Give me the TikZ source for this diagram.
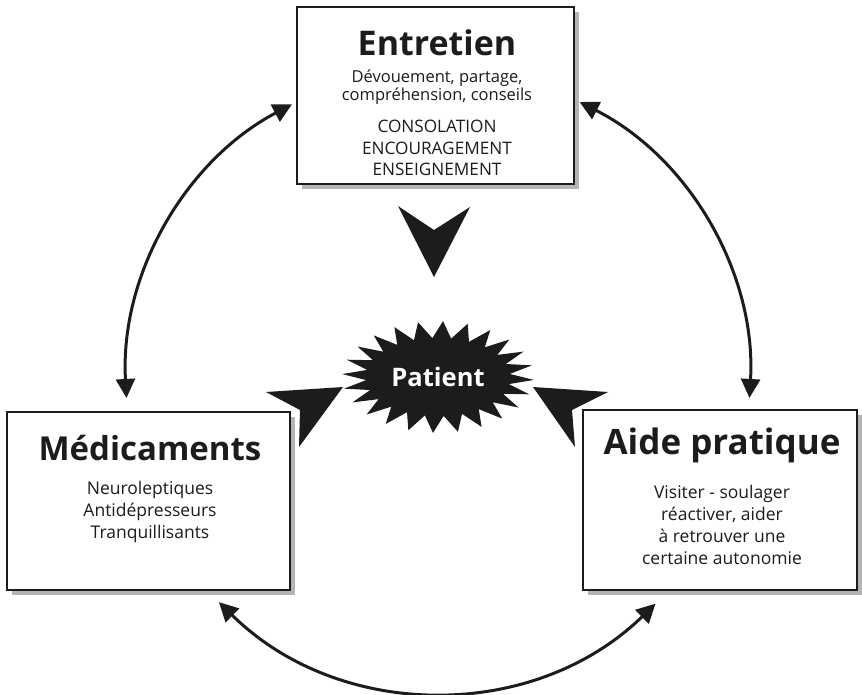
\documentclass[tikz,border=0pt]{standalone}
\usepackage{fontspec}
\setmainfont{Open Sans}
\usetikzlibrary{arrows.meta,shadows}
\definecolor{ink}{HTML}{1C1C1C}
\definecolor{shade}{HTML}{B4B4B4}
\begin{document}
\begin{tikzpicture}[x=1pt,y=-1pt,
  box/.style={draw=ink, line width=2pt, fill=white, rectangle, inner sep=0pt,
    general shadow={fill=shade, shadow xshift=4.5pt, shadow yshift=-4.5pt}},
  title/.style={text=ink, inner sep=0pt},
  body/.style={font=\fontsize{17.5}{22}\selectfont, text=ink, align=center, inner sep=0pt},
  link/.style={draw=ink, line width=3pt,
    {Triangle[length=19pt,width=19pt]}-{Triangle[length=19pt,width=19pt]}},
  chevron/.style={fill=ink}]
\useasboundingbox (0,0) rectangle (862,694);

% the three boxes
\node[box, minimum width=277pt, minimum height=177pt] (entretien) at (435.5,95.5) {};
\node[box, minimum width=283pt, minimum height=178pt] (medic) at (148.5,501) {};
\node[box, minimum width=274pt, minimum height=180pt] (aide) at (720,500) {};

% box contents
\node[title, font=\fontsize{34}{38}\selectfont\bfseries] (tE) at (437,43) {Entretien};
\node[body, font=\fontsize{16.5}{18}\selectfont] (bE1) at (437,87) {Dévouement, partage,\\compréhension, conseils};
\node[body, font=\fontsize{17.2}{21.5}\selectfont] (bE2) at (437,148) {CONSOLATION\\ENCOURAGEMENT\\ENSEIGNEMENT};

\node[title, font=\fontsize{33}{37}\selectfont\bfseries] (tM) at (150,448) {Médicaments};
\node[body] (bM) at (150,512) {Neuroleptiques\\Antidépresseurs\\Tranquillisants};

\node[title, font=\fontsize{35}{39}\selectfont\bfseries] (tA) at (722,445) {Aide pratique};
\node[body] (bA) at (722,525) {Visiter - soulager\\réactiver, aider\\à retrouver une\\certaine autonomie};

% central starburst
\node[inner sep=0pt] (patient) at (438,377) {};
\fill[ink, shift={(patient.center)}]
  plot[samples at={0,...,48}, variable=\k]
  ({(84+12*cos(180*\k))*cos(7.5*\k+3)}, {(47.5+8.5*cos(180*\k))*sin(7.5*\k+3)}) -- cycle;
\node[font=\fontsize{25.5}{28}\selectfont\bfseries, text=white, inner sep=0pt] at (patient) {Patient};

% chevrons pointing at the patient
\fill[chevron] (398,206) -- (434,230) -- (470,207) -- (434,277) -- cycle;
\fill[chevron] (266,392) -- (343,387) -- (299,447) -- (300,410) -- cycle;
\fill[chevron] (608,392) -- (533,387) -- (575,447) -- (572,410) -- cycle;

% ring of double arrows between the boxes
\coordinate (ring) at (438,380);
\path (ring) ++(-117.9:312) coordinate (lTop);
\path (ring) ++(-63.0:312) coordinate (rTop);
\path (ring) ++(134.6:312) coordinate (bLeft);
\draw[link] (lTop) arc[start angle=-117.9, end angle=-183.3, radius=312];
\draw[link] (rTop) arc[start angle=-63.0, end angle=3.3, radius=312];
\draw[link] (bLeft) arc[start angle=134.6, end angle=45.8, radius=312];
\end{tikzpicture}
\end{document}
